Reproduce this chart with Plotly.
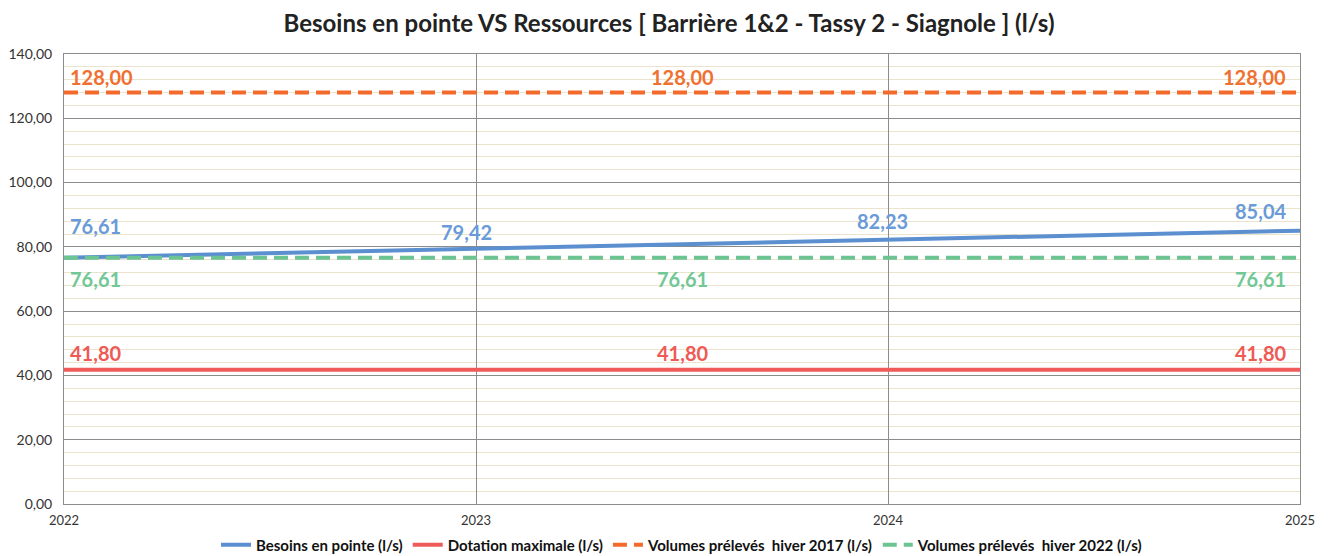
import plotly.graph_objects as go

years = [2022, 2023, 2024, 2025]
besoins = [76.61, 79.42, 82.23, 85.04]
dotation = [41.80, 41.80, 41.80, 41.80]
hiver2017 = [128.00, 128.00, 128.00, 128.00]
hiver2022 = [76.61, 76.61, 76.61, 76.61]
y_ticks = [0, 20, 40, 60, 80, 100, 120, 140]

names = ["Besoins en pointe (l/s)", "Dotation maximale (l/s)",
         "Volumes prélevés  hiver 2017 (l/s)", "Volumes prélevés  hiver 2022 (l/s)"]
colors = ["#5b8fd0", "#ef5b5b", "#f26b2d", "#6cc493"]
lab_colors = ["#6a9bd8", "#ee5a55", "#f0702f", "#72c796"]

fig = go.Figure()
fig.add_trace(go.Scatter(x=years, y=besoins, mode="lines", name=names[0],
                         line=dict(color=colors[0], width=4)))
fig.add_trace(go.Scatter(x=years, y=dotation, mode="lines", name=names[1],
                         line=dict(color=colors[1], width=4)))
fig.add_trace(go.Scatter(x=years, y=hiver2017, mode="lines", name=names[2],
                         line=dict(color=colors[2], width=4, dash="14px,7px")))
fig.add_trace(go.Scatter(x=years, y=hiver2022, mode="lines", name=names[3],
                         line=dict(color=colors[3], width=4, dash="14px,7px")))

def fmt(v):
    return f"{v:.2f}".replace(".", ",")

ann = []
font_lab = dict(family="Lato, Open Sans, sans-serif", size=20)
# Besoins labels
bshift = [32, 17, 19, 20]
bx = [(2022, "left", 4), (2023, "center", -10), (2024, "center", -6), (2025, "right", -12)]
for i, (xv, anc, xs) in enumerate(bx):
    ann.append(dict(x=xv, y=besoins[i], text=f"<b>{fmt(besoins[i])}</b>", showarrow=False,
                    xanchor=anc, yshift=bshift[i], xshift=xs,
                    font=dict(font_lab, color=lab_colors[0])))
# Constant-line labels at start, middle, end
pos = [(2022, "left", 4), (2023.5, "center", 0), (2025, "right", -12)]
for series, col, ys in [(dotation, lab_colors[1], 17), (hiver2017, lab_colors[2], 16),
                        (hiver2022, lab_colors[3], -21)]:
    for xv, anc, xs in pos:
        ann.append(dict(x=xv, y=series[0], text=f"<b>{fmt(series[0])}</b>", showarrow=False,
                        xanchor=anc, yshift=ys, xshift=xs,
                        font=dict(font_lab, color=col)))

fig.update_layout(
    width=1322, height=548,
    separators=", ",
    paper_bgcolor="white", plot_bgcolor="white",
    margin=dict(l=56, r=30, t=46, b=52, autoexpand=False),
    title=dict(text="<b>Besoins en pointe VS Ressources [ Barrière 1&2 - Tassy 2 - Siagnole ] (l/s)</b>",
               x=0.5, xanchor="center", y=0.972, yanchor="middle", yref="container",
               font=dict(family="Lato, Open Sans, sans-serif", size=24, color="#222222")),
    font=dict(family="Lato, Open Sans, sans-serif", color="#333333"),
    annotations=ann,
    showlegend=True,
    legend=dict(orientation="h", x=0.5, xanchor="center", y=-0.091, yanchor="middle",
                font=dict(size=15, color="#111111", weight="bold"), tracegroupgap=0),
    xaxis=dict(range=[2022, 2025], tickvals=years, ticktext=[str(y) for y in years],
               showgrid=True, gridcolor="#8c8c8c", gridwidth=1, automargin=False,
               showline=True, linecolor="#8c8c8c", linewidth=1, mirror=True,
               ticks="", ticklabelstandoff=4, tickfont=dict(size=13, color="#333333"), zeroline=False),
    yaxis=dict(range=[0, 140], tickvals=y_ticks, tickformat=".2f", automargin=False,
               showgrid=True, gridcolor="#8c8c8c", gridwidth=1,
               minor=dict(dtick=4, showgrid=True, gridcolor="#ebe3cb", gridwidth=1),
               showline=True, linecolor="#8c8c8c", linewidth=1, mirror=True,
               ticks="", ticklabelstandoff=8, tickfont=dict(size=14, color="#333333"), zeroline=False),
)
fig.write_html("out.html")
